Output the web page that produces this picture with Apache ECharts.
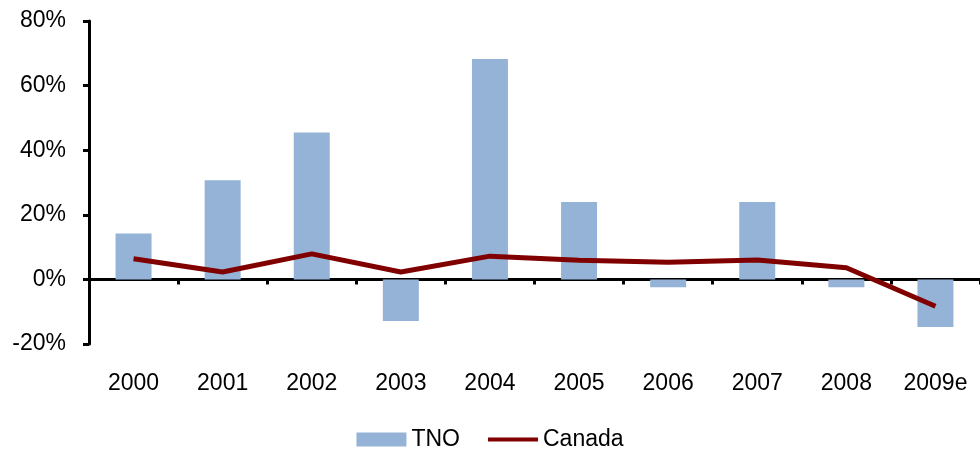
<!DOCTYPE html>
<html>
<head>
<meta charset="utf-8">
<script src="https://cdn.jsdelivr.net/npm/echarts@6/dist/echarts.min.js"></script>
<style>
  html, body { margin: 0; padding: 0; background: #fff; }
  #chart { width: 980px; height: 451px; }
</style>
</head>
<body>
<div id="chart"></div>
<script>
// data
const years = ['2000', '2001', '2002', '2003', '2004', '2005', '2006', '2007', '2008', '2009e'];
const tno = [14.2, 30.7, 45.5, -12.9, 68.2, 24.0, -2.4, 24.0, -2.4, -14.7];
const canada = [6.4, 2.3, 7.9, 2.3, 7.2, 5.9, 5.3, 6.0, 3.6, -8.3];

const chart = echarts.init(document.getElementById('chart'));

const font = 'Liberation Sans, Arial, sans-serif';
const fsize = 23;

const option = {
  animation: false,
  grid: {
    left: 89,
    right: -6,
    top: 21,
    bottom: 107
  },
  legend: {
    bottom: -5,
    left: 'center',
    itemWidth: 50,
    itemHeight: 14,
    itemGap: 26,
    textStyle: { fontFamily: font, fontSize: fsize, color: '#000' },
    data: [
      { name: 'TNO', icon: 'rect' },
      { name: 'Canada', itemStyle: { opacity: 0 }, lineStyle: { width: 4, color: '#800000' } }
    ]
  },
  xAxis: [
    {
      type: 'category',
      data: years,
      axisLine: { onZero: true, lineStyle: { color: '#000', width: 3 } },
      axisTick: { show: true, length: 5, lineStyle: { color: '#000', width: 3 } },
      axisLabel: { show: false }
    },
    {
      type: 'category',
      data: years,
      position: 'bottom',
      axisLine: { show: false, onZero: false },
      axisTick: { show: false },
      axisLabel: { margin: 28, fontFamily: font, fontSize: fsize, color: '#000' }
    }
  ],
  yAxis: {
    type: 'value',
    min: -20,
    max: 80,
    interval: 20,
    axisLine: { show: true, lineStyle: { color: '#000', width: 3 } },
    axisTick: { show: true, length: 6, lineStyle: { color: '#000', width: 3 } },
    axisLabel: {
      margin: 23,
      fontFamily: font,
      fontSize: fsize,
      color: '#000',
      formatter: '{value}%'
    },
    splitLine: { show: false }
  },
  series: [
    {
      name: 'TNO',
      type: 'bar',
      data: tno,
      barWidth: 36,
      itemStyle: { color: '#95B3D7' }
    },
    {
      name: 'Canada',
      type: 'line',
      data: canada,
      symbol: 'none',
      lineStyle: { color: '#800000', width: 5 },
      itemStyle: { color: '#800000' }
    }
  ]
};

chart.setOption(option);
</script>
</body>
</html>
